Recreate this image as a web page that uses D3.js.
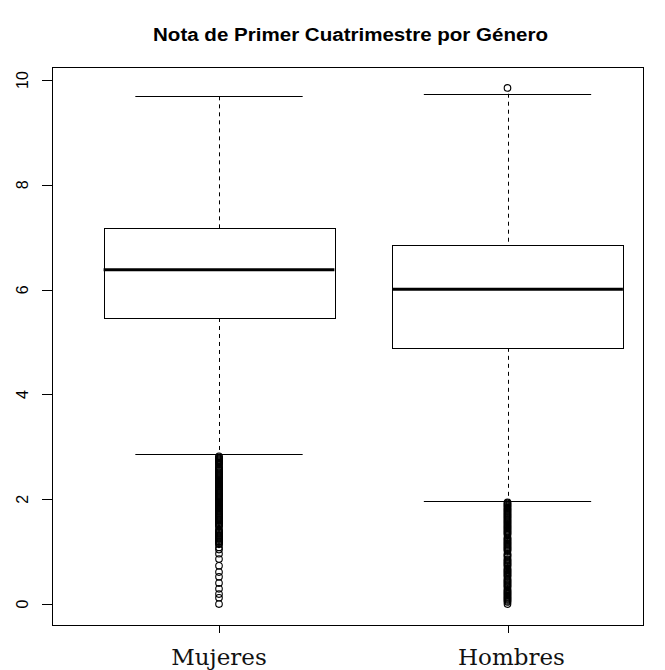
<!DOCTYPE html>
<html><head><meta charset="utf-8">
<script src="https://cdn.jsdelivr.net/npm/d3@7"></script>
<style>body{margin:0;background:#fff}svg{display:block}</style>
</head><body>
<script>
const categories = ["Mujeres", "Hombres"];
const whiskerLow = [2.86, 1.96];
const q1 = [5.46, 4.89];
const medians = [6.38, 6.01];
const q3 = [7.17, 6.86];
const whiskerHigh = [9.69, 9.74];
const outliersMujeres = [2.82,2.80,2.78,2.76,2.74,2.72,2.70,2.68,2.66,2.62,2.60,2.58,2.56,2.54,2.52,2.50,2.48,2.46,2.44,2.42,2.40,2.38,2.36,2.34,2.32,2.30,2.28,2.26,2.24,2.22,2.20,2.18,2.16,2.14,2.12,2.10,2.08,2.06,2.04,2.02,2.00,1.98,1.96,1.94,1.92,1.90,1.88,1.86,1.84,1.82,1.80,1.78,1.76,1.74,1.72,1.70,1.68,1.66,1.64,1.62,1.60,1.58,1.56,1.54,1.52,1.50,1.48,1.42,1.40,1.38,1.36,1.34,1.32,1.30,1.28,1.26,1.24,1.22,1.20,1.18,1.16,1.14,1.08,1.04,0.96,0.86,0.73,0.61,0.52,0.40,0.29,0.19,0.12,0.0];
const outliersHombres = [9.85,1.94,1.92,1.90,1.88,1.86,1.84,1.82,1.80,1.78,1.76,1.74,1.72,1.70,1.68,1.66,1.64,1.62,1.60,1.58,1.56,1.54,1.52,1.50,1.48,1.46,1.44,1.42,1.40,1.38,1.36,1.34,1.32,1.27,1.25,1.23,1.21,1.19,1.17,1.15,1.13,1.11,1.09,1.07,1.05,1.03,1.01,0.96,0.94,0.92,0.90,0.86,0.84,0.82,0.80,0.78,0.76,0.74,0.72,0.68,0.66,0.64,0.62,0.60,0.58,0.56,0.54,0.52,0.48,0.46,0.44,0.42,0.40,0.38,0.36,0.34,0.32,0.28,0.26,0.24,0.22,0.20,0.18,0.16,0.14,0.12,0.10,0.08,0.06,0.04,0.0];
const outliers = [outliersMujeres, outliersHombres];
const yTicks = [0, 2, 4, 6, 8, 10];
const title = "Nota de Primer Cuatrimestre por Género";

const W = 665, H = 670;
const frame = {left: 52, right: 643, top: 67, bottom: 625};
const svg = d3.select("body").append("svg").attr("width", W).attr("height", H);

const y = d3.scaleLinear().domain([-0.4, 10.25]).range([frame.bottom, frame.top]);
const x = d3.scaleLinear().domain([1, 2]).range([219, 507.5]);
const boxHalf = 0.4, capHalf = 0.29;

// title
svg.append("text").attr("x", 350.5).attr("y", 41)
  .attr("text-anchor", "middle").attr("font-family", "Liberation Sans, Arial, sans-serif")
  .attr("font-weight", "bold").attr("font-size", "18px").attr("fill", "#000")
  .attr("textLength", 395).attr("lengthAdjust", "spacingAndGlyphs").text(title);

// frame
svg.append("rect").attr("x", frame.left + 0.5).attr("y", frame.top + 0.5)
  .attr("width", frame.right - frame.left).attr("height", frame.bottom - frame.top)
  .attr("fill", "none").attr("stroke", "#000").attr("stroke-width", 1);

// y axis
const yAxis = svg.append("g");
yTicks.forEach(t => {
  const yy = Math.round(y(t)) + 0.5;
  yAxis.append("line").attr("x1", frame.left - 10).attr("x2", frame.left).attr("y1", yy).attr("y2", yy)
    .attr("stroke", "#000").attr("stroke-width", 1);
  yAxis.append("text").attr("transform", `translate(28,${y(t)}) rotate(-90)`)
    .attr("text-anchor", "middle").attr("font-family", "Liberation Sans, Arial, sans-serif")
    .attr("font-size", "16px").attr("fill", "#000").text(t);
});

// x ticks and labels
categories.forEach((c, i) => {
  const xx = Math.round(x(i + 1)) + 0.5;
  svg.append("line").attr("x1", xx).attr("x2", xx).attr("y1", frame.bottom).attr("y2", frame.bottom + 8)
    .attr("stroke", "#000").attr("stroke-width", 1);
  svg.append("text").attr("x", x(i + 1) + (i === 1 ? 4 : 0)).attr("y", 665).attr("text-anchor", "middle")
    .attr("font-family", "DejaVu Serif, serif").attr("font-size", "23px").attr("fill", "#111").text(c);
});

// boxes
categories.forEach((c, i) => {
  const g = svg.append("g");
  const cx = Math.round(x(i + 1)) + 0.5;
  const x0 = x(i + 1 - boxHalf), x1 = x(i + 1 + boxHalf);
  const c0 = x(i + 1 - capHalf), c1 = x(i + 1 + capHalf);
  g.append("line").attr("x1", cx).attr("x2", cx).attr("y1", y(whiskerHigh[i])).attr("y2", y(q3[i]))
    .attr("stroke", "#000").attr("stroke-dasharray", "4,4");
  g.append("line").attr("x1", cx).attr("x2", cx).attr("y1", y(q1[i])).attr("y2", y(whiskerLow[i]))
    .attr("stroke", "#000").attr("stroke-dasharray", "4,4");
  [whiskerHigh[i], whiskerLow[i]].forEach(v => {
    const yy = Math.round(y(v)) + 0.5;
    g.append("line").attr("x1", c0).attr("x2", c1).attr("y1", yy).attr("y2", yy).attr("stroke", "#000");
  });
  const yt = Math.round(y(q3[i])) + 0.5, yb = Math.round(y(q1[i])) + 0.5;
  g.append("rect").attr("x", Math.round(x0) + 0.5).attr("y", yt).attr("width", Math.round(x1 - x0)).attr("height", yb - yt)
    .attr("fill", "#fff").attr("stroke", "#000");
  g.append("line").attr("x1", x0).attr("x2", x1).attr("y1", y(medians[i])).attr("y2", y(medians[i]))
    .attr("stroke", "#000").attr("stroke-width", 3);
  g.selectAll("circle").data(outliers[i]).join("circle")
    .attr("cx", x(i + 1)).attr("cy", d => y(d)).attr("r", 3.3)
    .attr("fill", "none").attr("stroke", "#000").attr("stroke-width", 1.1);
});
</script>
</body></html>
